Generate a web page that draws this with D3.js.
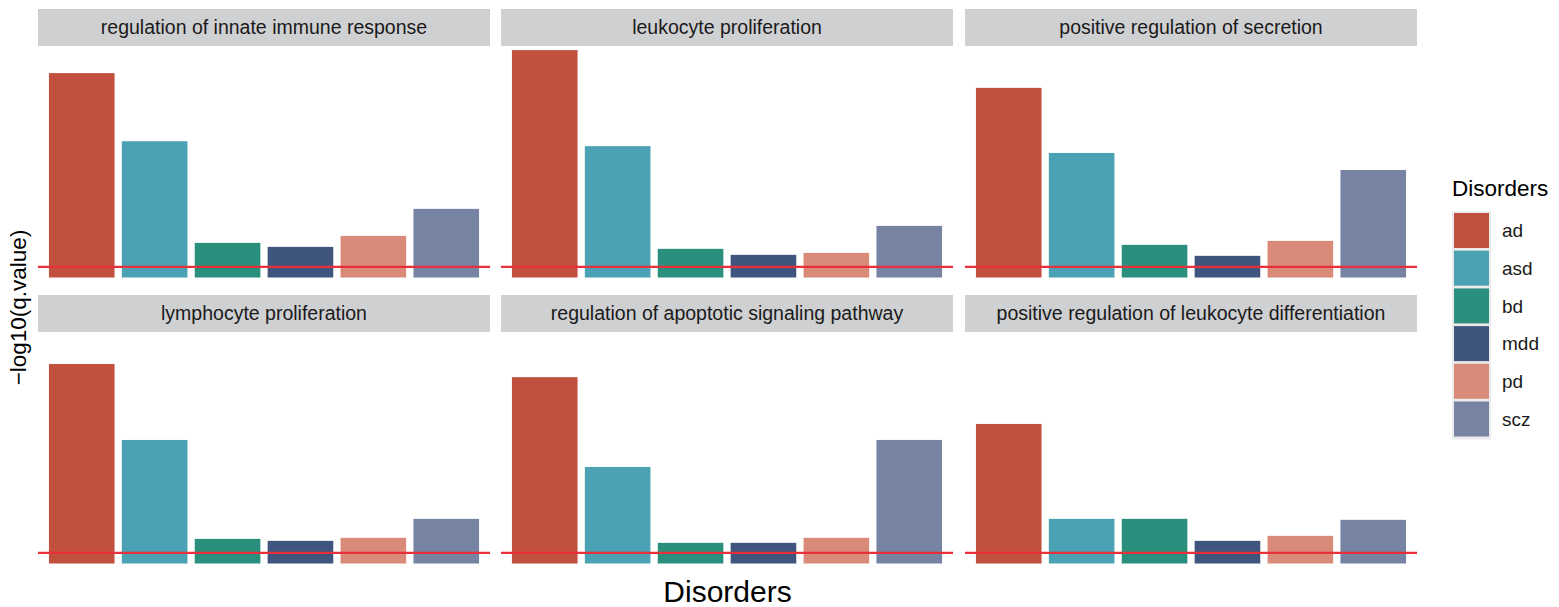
<!DOCTYPE html>
<html>
<head>
<meta charset="utf-8">
<script src="https://cdn.jsdelivr.net/npm/d3@7"></script>
<style>
  html, body { margin: 0; padding: 0; background: #fff; }
  svg { display: block; font-family: "Liberation Sans", Arial, Helvetica, sans-serif; }
</style>
</head>
<body>
<svg id="chart" width="1559" height="607"></svg>
<script>
// ---- data ----
const disorders = ["ad", "asd", "bd", "mdd", "pd", "scz"];
const colors = ["#C1503F", "#4BA2B4", "#2B8F7D", "#3F557D", "#D98A78", "#7783A2"];
const terms = [
  "regulation of innate immune response",
  "leukocyte proliferation",
  "positive regulation of secretion",
  "lymphocyte proliferation",
  "regulation of apoptotic signaling pathway",
  "positive regulation of leukocyte differentiation"
];
const innateImmune      = [24.9, 16.6, 4.22, 3.73, 5.07, 8.36];
const leukocyteProlif   = [27.7, 16.0, 3.49, 2.76, 3.00, 6.29];
const posRegSecretion   = [23.1, 15.17, 3.98, 2.64, 4.46, 13.10];
const lymphocyteProlif  = [24.3, 15.05, 3.00, 2.76, 3.13, 5.44];
const apoptoticSignal   = [22.7, 11.76, 2.52, 2.52, 3.13, 15.05];
const posRegLeukDiff    = [17.0, 5.44, 5.44, 2.76, 3.37, 5.32];
const seriesValues = [innateImmune, leukocyteProlif, posRegSecretion, lymphocyteProlif, apoptoticSignal, posRegLeukDiff];
const threshold = -Math.log10(0.05);
const xTitle = "Disorders";
const yTitle = "\u2212log10(q.value)";
const legendTitle = "Disorders";

// ---- layout ----
const svg = d3.select("#chart");
const panelLeft = [38, 501, 965];
const panelW = 452;
const stripTop = [9, 295];
const stripH = 37;
const panelH = 243;

const yMaxAll = d3.max(seriesValues, s => d3.max(s));
const expandLow = 1.4, expandHigh = 0.5;

const x = d3.scaleBand().domain(disorders).range([0, panelW]).paddingInner(0.1).paddingOuter(0.15);
const y = d3.scaleLinear().domain([-expandLow, yMaxAll + expandHigh]).range([panelH, 0]);
const color = d3.scaleOrdinal().domain(disorders).range(colors);

terms.forEach((term, i) => {
  const col = i % 3, row = Math.floor(i / 3);
  const g = svg.append("g").attr("transform", `translate(${panelLeft[col]},${stripTop[row]})`);
  // strip
  g.append("rect").attr("x", 0).attr("y", 0).attr("width", panelW).attr("height", stripH).attr("fill", "#CFD0D2");
  g.append("text").attr("x", panelW / 2).attr("y", stripH / 2).attr("dy", "0.35em")
    .attr("text-anchor", "middle").attr("font-size", 19.5).attr("fill", "#1A1A1A").text(term);
  // panel
  const p = g.append("g").attr("transform", `translate(0,${stripH})`);
  const vals = seriesValues[i];
  p.selectAll("rect.bar").data(disorders.map((d, j) => ({ d, v: vals[j] })))
    .join("rect").attr("class", "bar")
    .attr("x", d => x(d.d)).attr("width", x.bandwidth())
    .attr("y", d => y(d.v)).attr("height", d => y(0) - y(d.v))
    .attr("fill", d => color(d.d));
  p.append("line").attr("x1", 0).attr("x2", panelW)
    .attr("y1", y(threshold)).attr("y2", y(threshold))
    .attr("stroke", "#E8303A").attr("stroke-width", 2.2);
});

// axis titles
svg.append("text").attr("x", (panelLeft[0] + panelLeft[2] + panelW) / 2).attr("y", 601.5)
  .attr("text-anchor", "middle").attr("font-size", 30).attr("fill", "#000").text(xTitle);
svg.append("text").attr("transform", "translate(26,307.5) rotate(-90)")
  .attr("text-anchor", "middle").attr("font-size", 22.5).attr("fill", "#000").text(yTitle);

// legend
const lg = svg.append("g").attr("transform", "translate(1452,0)");
lg.append("text").attr("x", 0).attr("y", 196).attr("font-size", 22.5).attr("fill", "#000").text(legendTitle);
const keyTop = 211, keyPitch = 37.7, keyW = 35, keyH = 35;
lg.append("rect").attr("x", 0).attr("y", keyTop).attr("width", keyW + 4)
  .attr("height", keyPitch * disorders.length + 2.3).attr("fill", "#EBEBEB");
disorders.forEach((d, j) => {
  lg.append("rect").attr("x", 2).attr("y", keyTop + 2 + j * keyPitch)
    .attr("width", keyW).attr("height", keyH).attr("fill", color(d));
  lg.append("text").attr("x", 50).attr("y", keyTop + 2 + j * keyPitch + keyH / 2).attr("dy", "0.35em")
    .attr("font-size", 19).attr("fill", "#1A1A1A").text(d);
});
</script>
</body>
</html>
